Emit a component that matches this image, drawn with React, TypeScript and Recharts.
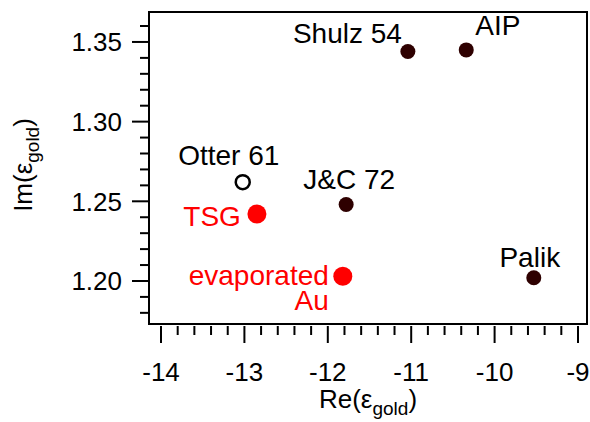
import React from "react";
import {
  ScatterChart,
  Scatter,
  XAxis,
  YAxis,
  ReferenceArea,
  Label,
} from "recharts";

// ── Data ────────────────────────────────────────────────────────────────────
const bulkNames = ["Shulz 54", "AIP", "J&C 72", "Palik"];
const bulkRe = [-11.04, -10.34, -11.78, -9.53];
const bulkIm = [1.344, 1.345, 1.248, 1.202];

const otterNames = ["Otter 61"];
const otterRe = [-13.02];
const otterIm = [1.262];

const filmNames = ["TSG", "evaporated Au"];
const filmRe = [-12.85, -11.82];
const filmIm = [1.242, 1.203];

const xDomain = [-14.144, -8.892];
const yDomain = [1.173, 1.3688];

const xMajorTicks = [-14, -13, -12, -11, -10, -9];
const xAllTicks = [
  -14, -13.8, -13.6, -13.4, -13.2, -13, -12.8, -12.6, -12.4, -12.2, -12, -11.8, -11.6,
  -11.4, -11.2, -11, -10.8, -10.6, -10.4, -10.2, -10, -9.8, -9.6, -9.4, -9.2, -9,
];
const yMajorTicks = [1.2, 1.25, 1.3, 1.35];
const yAllTicks = [
  1.18, 1.19, 1.2, 1.21, 1.22, 1.23, 1.24, 1.25, 1.26, 1.27, 1.28, 1.29, 1.3, 1.31, 1.32,
  1.33, 1.34, 1.35, 1.36,
];

const toPoints = (names: string[], re: number[], im: number[]) =>
  names.map((name, i) => ({ name, x: re[i], y: im[i] }));

const bulkData = toPoints(bulkNames, bulkRe, bulkIm);
const otterData = toPoints(otterNames, otterRe, otterIm);
const filmData = toPoints(filmNames, filmRe, filmIm);

// ── Styles ──────────────────────────────────────────────────────────────────
const FONT = "'Liberation Sans', Arial, sans-serif";
const DARK = "#2e0000";
const RED = "#ff0000";

const isMajor = (v: number, majors: number[]) => majors.some((m) => Math.abs(m - v) < 1e-6);

// label placement relative to the marker centre (dy = baseline offset)
const labelPos: Record<string, { dx: number; dy: number; anchor: "start" | "middle" | "end" }> = {
  "Shulz 54": { dx: -6, dy: -9, anchor: "end" },
  AIP: { dx: 9, dy: -15, anchor: "start" },
  Palik: { dx: -4, dy: -11, anchor: "middle" },
  "J&C 72": { dx: 3, dy: -15, anchor: "middle" },
  "Otter 61": { dx: -14, dy: -17.5, anchor: "middle" },
  TSG: { dx: -16, dy: 12, anchor: "end" },
  "evaporated Au": { dx: -14, dy: 9, anchor: "end" },
};

function PointLabel({ cx, cy, name, color }: { cx: number; cy: number; name: string; color: string }) {
  const p = labelPos[name];
  if (!p) return null;
  const common = { fontFamily: FONT, fontSize: 28, fill: color, textAnchor: p.anchor };
  if (name === "evaporated Au") {
    return (
      <g>
        <text x={cx + p.dx} y={cy + p.dy} {...common}>evaporated</text>
        <text x={cx + p.dx} y={cy + p.dy + 25} {...common}>Au</text>
      </g>
    );
  }
  return (
    <text x={cx + p.dx} y={cy + p.dy} {...common}>
      {name}
    </text>
  );
}

const darkDot = (props: any) => (
  <g>
    <circle cx={props.cx} cy={props.cy} r={7.5} fill={DARK} />
    <PointLabel cx={props.cx} cy={props.cy} name={props.payload?.name} color="#000" />
  </g>
);

const openDot = (props: any) => (
  <g>
    <circle cx={props.cx} cy={props.cy} r={7} fill="#fff" stroke="#000" strokeWidth={2.5} />
    <PointLabel cx={props.cx} cy={props.cy} name={props.payload?.name} color="#000" />
  </g>
);

const redDot = (props: any) => (
  <g>
    <circle cx={props.cx} cy={props.cy} r={9.5} fill={RED} />
    <PointLabel cx={props.cx} cy={props.cy} name={props.payload?.name} color={RED} />
  </g>
);

// ── Ticks (line + optional label drawn together) ────────────────────────────
const XTick = (props: any) => {
  const { x, y, payload } = props;
  const major = isMajor(payload.value, xMajorTicks);
  return (
    <g>
      <line x1={x} x2={x} y1={y + 2} y2={y + (major ? 19 : 11)} stroke="#000" strokeWidth={2} />
      {major && (
        <text x={x} y={y + 57} textAnchor="middle" fontFamily={FONT} fontSize={26} fill="#000">
          {payload.value}
        </text>
      )}
    </g>
  );
};

const YTick = (props: any) => {
  const { x, y, payload } = props;
  const major = isMajor(payload.value, yMajorTicks);
  return (
    <g>
      <line x1={x} x2={x - (major ? 17 : 9)} y1={y} y2={y} stroke="#000" strokeWidth={2} />
      {major && (
        <text x={x - 27} y={y + 9.5} textAnchor="end" fontFamily={FONT} fontSize={26} fill="#000">
          {payload.value.toFixed(2)}
        </text>
      )}
    </g>
  );
};

const xTitle = (props: any) => {
  const vb = props.viewBox;
  return (
    <text x={vb.x + vb.width / 2} y={408} textAnchor="middle" fontFamily={FONT} fontSize={26} fill="#000">
      Re(ε
      <tspan dy={7} fontSize={19}>gold</tspan>
      <tspan dy={-7}>)</tspan>
    </text>
  );
};

const yTitle = () => {
  const cx = 32;
  const cy = 165;
  return (
    <text
      x={cx}
      y={cy}
      transform={`rotate(-90, ${cx}, ${cy})`}
      textAnchor="middle"
      fontFamily={FONT}
      fontSize={26}
      fill="#000"
    >
      Im(ε
      <tspan dy={7} fontSize={19}>gold</tspan>
      <tspan dy={-7}>)</tspan>
    </text>
  );
};

export default function App() {
  return (
    <div style={{ position: "absolute", left: 0, top: 0, background: "#fff" }}>
      <ScatterChart width={590} height={422} margin={{ top: 12, right: 3, bottom: 0, left: 0 }}>
        <XAxis
          type="number"
          dataKey="x"
          domain={xDomain}
          ticks={xAllTicks}
          allowDataOverflow
          height={98}
          axisLine={false}
          tickLine={false}
          tickSize={0}
          tickMargin={0}
          tick={XTick}
          interval={0}
        >
          <Label content={xTitle} />
        </XAxis>
        <YAxis
          type="number"
          dataKey="y"
          domain={yDomain}
          ticks={yAllTicks}
          allowDataOverflow
          width={149}
          axisLine={false}
          tickLine={false}
          tickSize={0}
          tickMargin={0}
          tick={YTick}
          interval={0}
        >
          <Label content={yTitle} />
        </YAxis>

        <ReferenceArea
          x1={xDomain[0]}
          x2={xDomain[1]}
          y1={yDomain[0]}
          y2={yDomain[1]}
          fill="none"
          stroke="#000"
          strokeWidth={2}
          ifOverflow="visible"
        />

        <Scatter data={bulkData} shape={darkDot} isAnimationActive={false} />
        <Scatter data={otterData} shape={openDot} isAnimationActive={false} />
        <Scatter data={filmData} shape={redDot} isAnimationActive={false} />
      </ScatterChart>
    </div>
  );
}
